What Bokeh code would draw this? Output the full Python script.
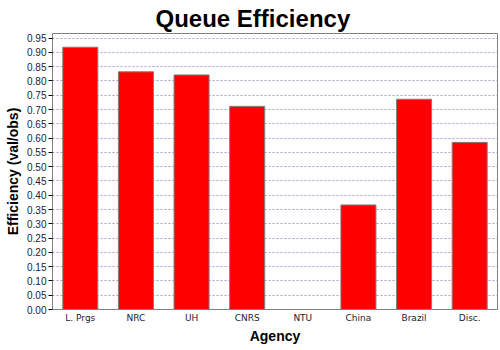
from bokeh.plotting import figure
from bokeh.models import FactorRange, Range1d, FixedTicker, NumeralTickFormatter, ColumnDataSource
from bokeh.embed import file_html
from bokeh.resources import INLINE

categories = ["L. Prgs", "NRC", "UH", "CNRS", "NTU", "China", "Brazil", "Disc."]
efficiency = [0.918, 0.832, 0.821, 0.711, 0.0, 0.366, 0.736, 0.585]
y_ticks = [round(i * 0.05, 2) for i in range(20)]

src = ColumnDataSource(dict(agency=categories, eff=efficiency))

p = figure(width=500, height=350, output_backend="svg", toolbar_location=None,
           x_range=FactorRange(*categories, range_padding=0),
           y_range=Range1d(0, 0.966),
           title="Queue Efficiency",
           min_border_left=52, min_border_right=3, min_border_bottom=41, min_border_top=0)

p.vbar(x="agency", top="eff", width=0.63, source=src,
       fill_color="#ff0000", line_color="#808080", line_width=1)

p.title.align = "left"
p.title.text_font = "Liberation Sans"
p.title.text_font_size = "24px"
p.title.text_font_style = "bold"
p.title.text_color = "black"
p.title.offset = 103
p.title.standoff = 4

p.outline_line_color = "#808080"
p.outline_line_width = 1
p.background_fill_color = "white"
p.border_fill_color = "white"

p.xgrid.visible = False
p.ygrid.grid_line_color = "#a0a0d0"
p.ygrid.grid_line_dash = "2 2"
p.ygrid.grid_line_width = 1
p.ygrid.ticker = FixedTicker(ticks=y_ticks)

ya = p.yaxis[0]
ya.ticker = FixedTicker(ticks=y_ticks)
ya.formatter = NumeralTickFormatter(format="0.00")
ya.axis_label = "Efficiency (val/obs)"
ya.axis_label_text_font = "Liberation Sans"
ya.axis_label_text_font_size = "14px"
ya.axis_label_text_font_style = "bold"
ya.axis_label_text_color = "black"
ya.axis_label_standoff = 3
ya.major_label_text_font = "Liberation Sans"
ya.major_label_text_font_size = "10px"
ya.major_label_text_color = "#222233"
ya.axis_line_color = "#808080"
ya.major_tick_line_color = "black"
ya.major_tick_in = 0
ya.major_tick_out = 4
ya.minor_tick_line_color = None
ya.major_label_standoff = 2

xa = p.xaxis[0]
xa.axis_label = "Agency"
xa.axis_label_text_font = "Liberation Sans"
xa.axis_label_text_font_size = "14px"
xa.axis_label_text_font_style = "bold"
xa.axis_label_text_color = "black"
xa.axis_label_standoff = 2
xa.major_label_text_font = "DejaVu Sans"
xa.major_label_text_font_size = "9px"
xa.major_label_text_color = "#222233"
xa.axis_line_color = "#808080"
xa.major_tick_line_color = None
xa.major_tick_out = 0
xa.major_tick_in = 0
xa.minor_tick_line_color = None
xa.major_label_standoff = 3

open("out.html", "w").write(file_html(p, INLINE))
